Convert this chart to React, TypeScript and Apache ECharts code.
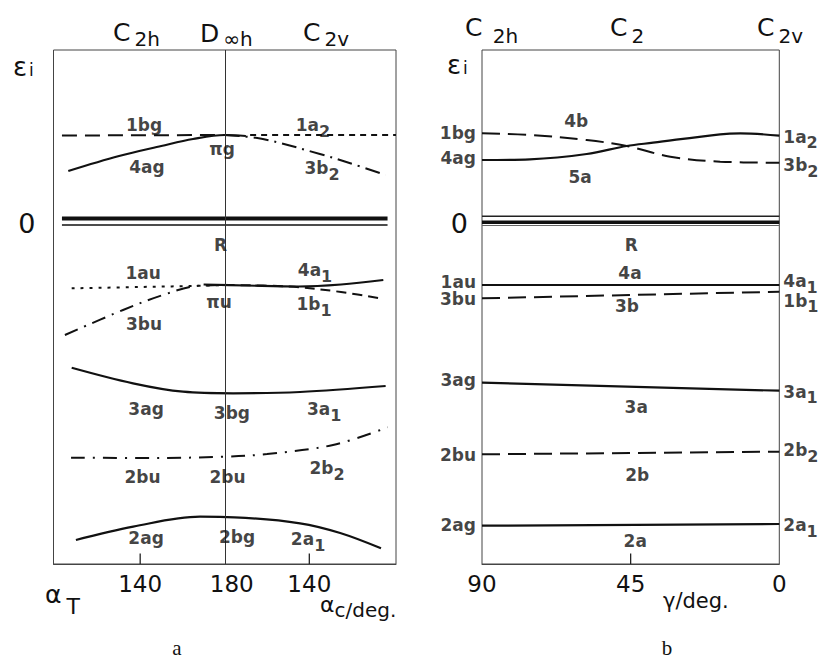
import React, { useEffect, useRef } from 'react';
import * as echarts from 'echarts';

const FONT = 'DejaVu Sans';
const INK = '#111111';

// ---------------- panel a (x: alpha_T up to 180, then 360 - alpha_C) ----------------
const aXTicks = [140, 180, 220];
const aXTickLabels = ['140', '180', '140'];
const aInnerTicks = [140, 220];

const a_1bg = [[103, 8.35], [180, 8.4]];
const a_1a2 = [[192, 8.4], [261, 8.4]];
const a_4ag = [[106, 4.8], [130, 6.3], [150, 7.3], [165, 8.0], [180, 8.4], [190, 8.3]];
const a_3b2 = [[180, 8.4], [198, 8.0], [225, 6.5], [239, 5.6], [256, 4.4]];
const a_1au = [[107.6, -6.93], [140, -6.8], [170, -6.67], [180, -6.6]];
const a_3bu = [[104.4, -11.6], [131.9, -9.1], [150.8, -7.6], [166.7, -6.7], [180, -6.6]];
const a_4a1 = [[170, -6.55], [190, -6.65], [215, -6.75], [235, -6.55], [255, -6.1]];
const a_1b1 = [[180, -6.6], [210, -6.75], [235, -7.3], [255, -8.0]];
const a_3ag = [[107.6, -14.87], [136.6, -16.43], [160.3, -17.27], [184, -17.43], [215.6, -17.3], [256.1, -16.7]];
const a_2bu = [[107.3, -23.87], [144.6, -23.9], [180, -23.77], [200, -23.5], [231.2, -22.6], [257.1, -20.83]];
const a_2ag = [[109.6, -32.1], [136.7, -30.77], [168.3, -29.77], [184.6, -29.83], [215.6, -30.43], [234.6, -31.4], [253.9, -32.93]];
const a_zeroThick = [[103, 0.05], [257, 0.05]];
const a_zeroThin = [[103, -0.6], [257, -0.6]];

const aLabels: [string, number, number][] = [
  ['1bg', 141.8, 9.4], ['4ag', 143.2, 5.2], ['πg', 178.7, 7.0], ['1a_2', 221.7, 9.4], ['3b_2', 226, 5.1],
  ['R', 178, -2.6], ['1au', 141.4, -5.35], ['πu', 177.3, -8.25], ['4a_1', 222.7, -5.1], ['1b_1', 222.2, -8.5],
  ['3bu', 141.8, -10.5], ['3ag', 142.8, -19.0], ['3bg', 183.4, -19.35], ['3a_1', 227, -19.0],
  ['2bu', 141.1, -25.8], ['2bu', 181.3, -25.8], ['2b_2', 228.4, -24.9],
  ['2ag', 142.8, -31.9], ['2bg', 185.8, -31.8], ['2a_1', 219.4, -32.0],
];

// ---------------- panel b (x: gamma, 90 -> 0) ----------------
const bXTicks = [90, 45, 0];
const bXTickLabels = ['90', '45', '0'];
const bInnerTicks = [45];

const b_4b = [[90, 8.57], [75.5, 8.4], [58.3, 7.9], [46.2, 7.3], [33, 6.23], [17.9, 5.73], [0, 5.63]];
const b_5a = [[90, 5.9], [75.5, 5.97], [58.3, 6.5], [46.2, 7.3], [38.2, 7.63], [17.9, 8.47], [11.8, 8.57], [0, 8.33]];
const b_4a = [[90, -6.6], [0, -6.6]];
const b_3b = [[90, -7.93], [0, -7.27]];
const b_3a = [[90, -16.37], [0, -17.17]];
const b_2b = [[90, -23.53], [0, -23.27]];
const b_2a = [[90, -30.67], [0, -30.5]];
const b_zero1 = [[90, 0.28], [0, 0.28]];
const b_zero2 = [[90, -0.33], [0, -0.33]];
const b_zero3 = [[90, -0.65], [0, -0.65]];

const bLeftLabels: [string, number, number][] = [
  ['1bg', 90, 8.65], ['4ag', 90, 6.07], ['1au', 90, -6.3], ['3bu', 90, -8.0],
  ['3ag', 90, -16.1], ['2bu', 90, -23.6], ['2ag', 90, -30.6],
];
const bRightLabels: [string, number, number][] = [
  ['1a_2', 0, 8.23], ['3b_2', 0, 5.4], ['4a_1', 0, -6.2], ['1b_1', 0, -8.15],
  ['3a_1', 0, -17.27], ['2b_2', 0, -23.1], ['2a_1', 0, -30.6],
];
const bMidLabels: [string, number, number][] = [
  ['4b', 61.5, 9.8], ['5a', 60.3, 4.23], ['R', 44.8, -2.6], ['4a', 45.2, -5.43],
  ['3b', 46.1, -8.68], ['3a', 43.3, -18.77], ['2b', 43, -25.6], ['2a', 43.6, -32.2],
];

const Y_MIN = -34.5;
const Y_MAX = 16.9;
const TICK_LEN = 1.05; // inner tick length in axis units

function rich(t: string): string {
  const i = t.indexOf('_');
  if (i < 0) return `{n|${t}}`;
  return `{n|${t.slice(0, i)}}{s|${t.slice(i + 1)}}`;
}

const curveRich = {
  n: { fontFamily: FONT, fontSize: 17, fontWeight: 'bold', lineHeight: 14, color: INK },
  s: { fontFamily: FONT, fontSize: 16, fontWeight: 'bold', lineHeight: 10, padding: [12, 0, 0, 0], color: INK },
};

const DOT = [3, 6];
const SHORTDASH = [6, 5];
const DASH = [15, 8];
const DASHDOT = [15, 6, 2, 6];

function line(data: number[][], g: number, dash: any, width = 2, color = INK, extra: any = {}) {
  return {
    type: 'line', xAxisIndex: g, yAxisIndex: g, data, symbol: 'none', showSymbol: false,
    smooth: 0.35, silent: true, z: 3,
    lineStyle: { color, width, type: dash, cap: 'butt' },
    ...extra,
  };
}

function labels(items: [string, number, number][], g: number, align: string, offset: number[]) {
  return {
    type: 'scatter', xAxisIndex: g, yAxisIndex: g, symbolSize: 0, silent: true, clip: false, z: 5,
    itemStyle: { color: INK },
    data: items.map(([t, x, y]) => ({ value: [x, y], name: t })),
    label: {
      show: true, position: 'inside', align, verticalAlign: 'middle', offset,
      color: INK, textBorderWidth: 0, fontFamily: FONT, fontSize: 17, fontWeight: 'bold',
      formatter: (p: any) => rich(p.name), rich: curveRich,
    },
  };
}

function gText(t: string, x: number, y: number, r: any, align = 'left') {
  return {
    type: 'text', silent: true,
    style: { text: t, x, y, align, verticalAlign: 'middle', rich: r, fill: INK },
  };
}

const mk = (size: number, lh: number, pad?: number[]) => ({
  fontFamily: FONT, fontSize: size, lineHeight: lh, fill: INK, color: INK, ...(pad ? { padding: pad } : {}),
});

const topRichL = { n: mk(25, 30), s: mk(20, 20, [12, 0, 0, 4]) };
const topRichR = { n: mk(25, 30), s: mk(20, 20, [16, 0, 0, 4]) };
const epsRich = { n: mk(26, 28), s: mk(17, 28, [6, 0, 0, 2]) };
const alphaTRich = { n: mk(25, 28), s: mk(22, 24, [24, 0, 0, 5]) };
const alphaCRich = { n: mk(22, 22), s: mk(20, 18, [12, 0, 0, 0]) };

export default function App() {
  const ref = useRef<HTMLDivElement>(null);
  useEffect(() => {
    document.body.style.margin = '0';
    if (!ref.current) return;
    const chart = echarts.init(ref.current, undefined, { renderer: 'svg' });
    const yAxisBase = (margin: number) => ({
      type: 'value', min: Y_MIN, max: Y_MAX,
      axisLine: { show: false, onZero: false }, axisTick: { show: false }, splitLine: { show: false },
      axisLabel: {
        customValues: [0], formatter: () => '{z|0}', color: INK, margin,
        rich: { z: { fontFamily: FONT, fontSize: 27, color: INK, lineHeight: 28, padding: [8, 0, 0, 0] } },
      },
    });
    const staticGraphic: any[] = [
      gText(rich('C_2h'), 113, 32.5, topRichL),
      gText(rich('D_∞h'), 200, 33, topRichL),
      gText(rich('C_2v'), 303, 32.5, topRichL),
      gText(rich('C_ 2h'), 465, 27.5, topRichR),
      gText(rich('C_2'), 610, 27.5, topRichR),
      gText(rich('C_2v'), 757, 27.5, topRichR),
      gText('{n|ε}{s|i}', 13, 66.5, epsRich),
      gText('{n|ε}{s|i}', 447, 64.5, epsRich),
      gText(rich('α_T'), 45, 594.7, alphaTRich),
      gText(rich('α_c/deg.'), 320, 604, alphaCRich),
      {
        type: 'text', silent: true,
        style: { text: 'γ/deg.', x: 663, y: 600.7, align: 'left', verticalAlign: 'middle', fill: INK, font: `21px "${FONT}"` },
      },
      {
        type: 'text', silent: true,
        style: { text: 'a', x: 177, y: 648, align: 'center', verticalAlign: 'middle', fill: INK, font: '21px "Liberation Serif"', lineHeight: 18 },
      },
      {
        type: 'text', silent: true,
        style: { text: 'b', x: 667, y: 648, align: 'center', verticalAlign: 'middle', fill: INK, font: '21px "Liberation Serif"', lineHeight: 18 },
      },
    ];
    const option: any = {
      animation: false,
      backgroundColor: '#ffffff',
      grid: [
        { left: 53.5, top: 50, width: 342.5, height: 514, show: true, borderColor: '#444', borderWidth: 1 },
        { left: 482, top: 50, width: 297.3, height: 514, show: true, borderColor: '#444', borderWidth: 1 },
      ],
      xAxis: [
        {
          gridIndex: 0, type: 'value', min: 99, max: 261, position: 'bottom',
          axisLine: { show: true, onZero: false, lineStyle: { color: '#444', width: 1 } }, splitLine: { show: false },
          axisTick: { show: false },
          axisLabel: {
            customValues: aXTicks, margin: 8, fontFamily: FONT, fontSize: 23, color: INK,
            formatter: (v: number) => {
              const s = aXTickLabels[aXTicks.indexOf(v)] ?? '';
              return v === 180 ? `{r|${s}}` : s;
            },
            rich: { r: { fontFamily: FONT, fontSize: 23, color: INK, padding: [0, 0, 0, 14] } },
          },
        },
        {
          gridIndex: 1, type: 'value', min: 0, max: 90, inverse: true, position: 'bottom',
          axisLine: { show: true, onZero: false, lineStyle: { color: '#444', width: 1 } }, splitLine: { show: false },
          axisTick: { show: false },
          axisLabel: {
            customValues: bXTicks, margin: 8, fontFamily: FONT, fontSize: 23, color: INK,
            formatter: (v: number) => bXTickLabels[bXTicks.indexOf(v)] ?? '',
          },
        },
      ],
      yAxis: [
        { gridIndex: 0, ...yAxisBase(18) },
        { gridIndex: 1, ...yAxisBase(14) },
      ],
      series: [
        // panel a
        line(a_zeroThick, 0, 'solid', 4, '#111', { smooth: false }),
        line(a_zeroThin, 0, 'solid', 1.5, '#111', { smooth: false }),
        line(a_1bg, 0, DASH, 2, INK, {
          smooth: false,
          markLine: {
            silent: true, symbol: ['none', 'none'], label: { show: false },
            lineStyle: { color: '#333', width: 1, type: 'solid' }, data: [{ xAxis: 180 }],
          },
        }),
        line(a_1a2, 0, SHORTDASH, 1.8, INK, { smooth: false }),
        line(a_4ag, 0, 'solid', 2.2),
        line(a_3b2, 0, DASHDOT, 2),
        line(a_1au, 0, DOT, 2),
        line(a_3bu, 0, [14, 7, 2, 7], 2),
        line(a_4a1, 0, 'solid', 2.2),
        line(a_1b1, 0, [10, 6], 2),
        line(a_3ag, 0, 'solid', 2.2),
        line(a_2bu, 0, [14, 8, 2, 8], 2),
        line(a_2ag, 0, 'solid', 2.2),
        labels(aLabels, 0, 'center', [0, 0]),
        // panel b
        line(b_zero1, 1, 'solid', 1.5, '#222', { smooth: false }),
        line(b_zero2, 1, 'solid', 3.5, '#111', { smooth: false }),
        line(b_zero3, 1, 'solid', 1.2, '#666', { smooth: false }),
        line(b_4b, 1, [18, 8], 2),
        line(b_5a, 1, 'solid', 2.2),
        line(b_4a, 1, 'solid', 2.2, INK, { smooth: false }),
        line(b_3b, 1, [18, 8], 2, INK, { smooth: false }),
        line(b_3a, 1, 'solid', 2.2, INK, { smooth: false }),
        line(b_2b, 1, [18, 8], 2, INK, { smooth: false }),
        line(b_2a, 1, 'solid', 2.2, INK, { smooth: false }),
        labels(bLeftLabels, 1, 'right', [-6, 0]),
        labels(bRightLabels, 1, 'left', [4, 0]),
        labels(bMidLabels, 1, 'center', [0, 0]),
      ],
      graphic: staticGraphic,
    };
    chart.setOption(option);
    // inner bottom ticks, placed through the axes' own scales
    const tickEls: any[] = [];
    const addTicks = (vals: number[], g: number) => {
      vals.forEach((v) => {
        const p1 = chart.convertToPixel({ gridIndex: g } as any, [v, Y_MIN]) as number[];
        const p2 = chart.convertToPixel({ gridIndex: g } as any, [v, Y_MIN + TICK_LEN]) as number[];
        if (p1 && p2) {
          tickEls.push({
            type: 'line', silent: true, z: 100,
            shape: { x1: p1[0], y1: p1[1], x2: p2[0], y2: p2[1] },
            style: { stroke: '#222', lineWidth: 1.3 },
          });
        }
      });
    };
    addTicks(aInnerTicks, 0);
    addTicks(bInnerTicks, 1);
    chart.setOption({ graphic: [...staticGraphic, ...tickEls] });
    return () => chart.dispose();
  }, []);
  return <div ref={ref} style={{ width: 828, height: 659 }} />;
}
